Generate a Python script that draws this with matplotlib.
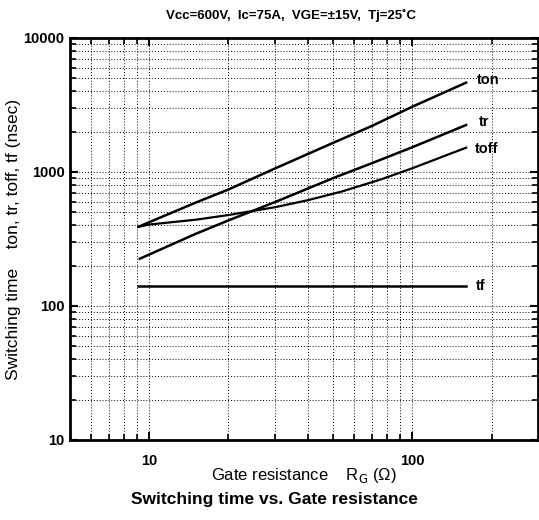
import matplotlib.pyplot as plt
from matplotlib.ticker import FixedLocator, LogLocator, NullFormatter, FixedFormatter

# Gate resistance (ohm) and switching times (nsec)
rg_ton = [9.1, 15, 20, 30, 50, 70, 100, 160]
ton = [390, 590, 740, 1060, 1650, 2200, 3070, 4640]

rg_tr = [9.2, 15, 20, 30, 50, 70, 100, 160]
tr = [225, 345, 435, 595, 900, 1160, 1530, 2240]

rg_toff = [9.1, 10, 15, 20, 30, 40, 54, 76, 100, 160]
toff = [390, 405, 440, 477, 545, 615, 715, 880, 1066, 1517]

rg_tf = [9.1, 160]
tf = [140, 140]

curve_names = ["ton", "tr", "toff", "tf"]

y_ticks = [10, 100, 1000, 10000]
y_labels = ['10', '100', '1000', '10000']
x_ticks = [10, 100]
x_labels = ['10', '100']

plt.rcParams['font.family'] = ['Liberation Sans', 'DejaVu Sans']

fig = plt.figure(figsize=(5.39, 5.20), dpi=100)
ax = fig.add_axes([0.130, 0.154, 0.868, 0.773])

ax.plot(rg_ton, ton, 'k-', lw=1.8)
ax.plot(rg_tr, tr, 'k-', lw=1.8)
ax.plot(rg_toff, toff, 'k-', lw=1.6)
ax.plot(rg_tf, tf, 'k-', lw=1.8)

ax.set_xscale('log')
ax.set_yscale('log')
ax.set_xlim(5, 300)
ax.set_ylim(10, 10000)

# end labels next to each curve
ends = [(rg_ton[-1], ton[-1]), (rg_tr[-1], tr[-1]), (rg_toff[-1], toff[-1]), (rg_tf[-1], tf[-1])]
offs = [(1.1, 1.05), (1.12, 1.05), (1.08, 0.97), (1.09, 1.0)]
for name, (xe, ye), (fx, fy) in zip(curve_names, ends, offs):
    ax.text(xe * fx, ye * fy, name, fontsize=10.5, fontweight='bold', ha='left', va='center')

ax.xaxis.set_major_locator(FixedLocator(x_ticks))
ax.xaxis.set_major_formatter(FixedFormatter(x_labels))
ax.xaxis.set_minor_locator(FixedLocator([6, 7, 8, 9, 20, 30, 40, 50, 60, 70, 80, 90, 200]))
ax.xaxis.set_minor_formatter(NullFormatter())
ax.yaxis.set_major_locator(FixedLocator(y_ticks))
ax.yaxis.set_major_formatter(FixedFormatter(y_labels))
ax.yaxis.set_minor_locator(LogLocator(base=10, subs=range(2, 10)))
ax.yaxis.set_minor_formatter(NullFormatter())

ax.tick_params(which='major', direction='in', length=6, width=1.5, top=True, right=True,
               labelsize=10.5)
ax.tick_params(which='minor', direction='in', length=4, width=1.2, top=True, right=True)
for lab in ax.get_xticklabels() + ax.get_yticklabels():
    lab.set_fontweight('bold')
ax.tick_params(axis='x', pad=10)
ax.tick_params(axis='y', pad=4)

ax.grid(True, which='both', linestyle=(0, (1, 2)), color='k', lw=0.7)

for sp in ax.spines.values():
    sp.set_linewidth(2)

ax.set_xlabel("Gate resistance    R$_{\\rm G}$ (\u03a9)", fontsize=12, labelpad=-1)
ax.set_ylabel("Switching time    ton, tr, toff, tf (nsec)", fontsize=12.5, labelpad=2)

fig.text(0.54, 0.971, "Vcc=600V,  Ic=75A,  VGE=\u00b115V,  Tj=25\u02daC",
         ha='center', va='center', fontsize=9.5, fontweight='bold')
fig.text(0.51, 0.040, "Switching time vs. Gate resistance",
         ha='center', va='center', fontsize=12.5, fontweight='bold')

fig.savefig("out.png", dpi=100)
